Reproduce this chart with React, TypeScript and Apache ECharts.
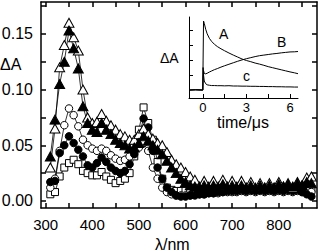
import React, { useEffect, useRef } from "react";
import * as echarts from "echarts";

const wavelengths = [310, 320, 330, 340, 350, 360, 370, 380, 390, 400, 410, 420, 430, 440, 450, 460, 470, 480, 490, 500, 510, 520, 530, 540, 550, 560, 570, 580, 590, 600, 610, 620, 630, 640, 650, 660, 670, 680, 690, 700, 710, 720, 730, 740, 750, 760, 770, 780, 790, 800, 810, 820, 830, 840, 850, 860, 870];

const triOpen = [0.030, 0.065, 0.120, 0.140, 0.160, 0.147, 0.135, 0.100, 0.075, 0.070,
  0.071, 0.078, 0.072, 0.068, 0.064, 0.060, 0.058, 0.055, 0.055, 0.060,
  0.065, 0.060, 0.056, 0.052, 0.050, 0.044, 0.037, 0.033, 0.030, 0.026,
  0.022, 0.019, 0.013, 0.018, 0.013, 0.018, 0.013, 0.019, 0.013, 0.018,
  0.013, 0.018, 0.012, 0.017, 0.012, 0.016, 0.012, 0.016, 0.012, 0.017,
  0.013, 0.016, 0.012, 0.017, 0.014, 0.021, 0.022];

const triFill = [0.040, 0.073, 0.105, 0.125, 0.153, 0.137, 0.119, 0.085, 0.070, 0.064,
  0.062, 0.070, 0.064, 0.060, 0.055, 0.052, 0.050, 0.047, 0.048, 0.052,
  0.058, 0.054, 0.050, 0.046, 0.042, 0.036, 0.030, 0.025, 0.020, 0.017,
  0.014, 0.013, 0.012, 0.014, 0.012, 0.014, 0.012, 0.015, 0.012, 0.014,
  0.012, 0.014, 0.012, 0.014, 0.011, 0.014, 0.012, 0.014, 0.012, 0.015,
  0.013, 0.015, 0.013, 0.016, 0.014, 0.017, 0.016];

const circOpen = [0.012, 0.020, 0.045, 0.068, 0.083, 0.077, 0.067, 0.055, 0.050, 0.047,
  0.045, 0.047, 0.045, 0.041, 0.038, 0.036, 0.037, 0.040, 0.044, 0.048,
  0.052, 0.045, 0.030, 0.020, 0.012, 0.008, 0.006, 0.005, 0.005, 0.005,
  0.005, 0.006, 0.006, 0.006, 0.007, 0.007, 0.007, 0.008, 0.008, 0.008,
  0.008, 0.009, 0.008, 0.009, 0.008, 0.009, 0.008, 0.009, 0.008, 0.009,
  0.008, 0.009, 0.008, 0.009, 0.008, 0.009, 0.008];

const circFill = [0.017, 0.018, 0.043, 0.050, 0.058, 0.052, 0.046, 0.040, 0.032, 0.030,
  0.034, 0.039, 0.035, 0.030, 0.027, 0.025, 0.027, 0.033, 0.042, 0.058,
  0.074, 0.066, 0.045, 0.030, 0.020, 0.012, 0.008, 0.005, 0.004, 0.004,
  0.005, 0.005, 0.006, 0.006, 0.007, 0.007, 0.008, 0.008, 0.009, 0.009,
  0.009, 0.010, 0.009, 0.010, 0.009, 0.010, 0.009, 0.010, 0.009, 0.010,
  0.009, 0.010, 0.009, 0.010, 0.008, 0.006, 0.004];

const sqOpen = [0.006, 0.008, 0.022, 0.030, 0.034, 0.037, 0.033, 0.027, 0.025, 0.023,
  0.023, 0.026, 0.022, 0.019, 0.016, 0.018, 0.020, 0.025, 0.040, 0.064,
  0.084, 0.070, 0.055, 0.035, 0.020, 0.012, 0.010, 0.009, 0.009, 0.009,
  0.009, 0.009, 0.010, 0.009, 0.010, 0.010, 0.010, 0.010, 0.011, 0.010,
  0.011, 0.010, 0.011, 0.010, 0.011, 0.011, 0.010, 0.011, 0.010, 0.011,
  0.010, 0.011, 0.010, 0.011, 0.011, 0.013, 0.011];

const xTickValues = [300, 350, 400, 450, 500, 550, 600, 650, 700, 750, 800, 850];
const xLabelValues = [300, 400, 500, 600, 700, 800];
const yTickValues = [0, 0.025, 0.05, 0.075, 0.1, 0.125, 0.15, 0.175];
const yLabelValues = [0, 0.05, 0.1, 0.15];

const insetT = [-0.95, -0.5, 0, 0.02, 0.05, 0.1, 0.2, 0.3, 0.45, 0.6, 0.8, 1.0, 1.25, 1.5, 1.8, 2.1, 2.4, 2.7, 3.0, 3.3, 3.6, 3.9, 4.2, 4.5, 4.8, 5.1, 5.4, 5.7, 6.0, 6.3, 6.55];
const curveA = [0, 0.02, 0, 2.0, 4.6, 4.45, 4.05, 3.75, 3.45, 3.25, 3.05, 2.9, 2.75, 2.62, 2.47, 2.33, 2.2, 2.07, 1.97, 1.89, 1.8, 1.73, 1.65, 1.56, 1.49, 1.42, 1.35, 1.28, 1.21, 1.15, 1.09];
const curveB = [0, 0.02, 0, 0.8, 1.3, 1.1, 1.08, 1.12, 1.2, 1.27, 1.36, 1.43, 1.53, 1.62, 1.72, 1.82, 1.92, 2.01, 2.09, 2.16, 2.23, 2.29, 2.33, 2.37, 2.41, 2.44, 2.48, 2.51, 2.54, 2.55, 2.57];
const curveC = [0, 0.02, 0, 1.5, 1.0, 0.6, 0.42, 0.35, 0.32, 0.3, 0.3, 0.29, 0.29, 0.28, 0.29, 0.27, 0.27, 0.26, 0.26, 0.25, 0.25, 0.24, 0.24, 0.23, 0.23, 0.22, 0.22, 0.21, 0.21, 0.2, 0.2];
const insetXTicks = [0, 1.5, 3, 4.5, 6];
const insetXLabels = [0, 3, 6];
const insetYTicks = [1, 2, 3, 4];

const FONT = "Liberation Sans, Arial, sans-serif";

export default function App() {
  const ref = useRef<HTMLDivElement>(null);
  useEffect(() => {
    if (!ref.current) return;
    const chart = echarts.init(ref.current, undefined, { renderer: "svg" });
    const pairs = (ys: number[]) => wavelengths.map((w, i) => [w, ys[i]]);
    const ipairs = (ys: number[]) => insetT.map((t, i) => [t, ys[i]]);
    const line = { color: "#000", width: 1.5 };
    const scatterLine = (name: string, data: number[], symbol: string, size: any, fill: string) => ({
      name,
      type: "line",
      xAxisIndex: 0,
      yAxisIndex: 0,
      data: pairs(data),
      symbol,
      symbolSize: size,
      showAllSymbol: true,
      lineStyle: { color: "#000", width: 0.8 },
      itemStyle: { color: fill, borderColor: "#000", borderWidth: 1 },
    });
    const insetLine = (data: number[]) => ({
      type: "line",
      xAxisIndex: 2,
      yAxisIndex: 2,
      data: ipairs(data),
      showSymbol: false,
      symbol: "none",
      lineStyle: { color: "#000", width: 1 },
    });
    chart.setOption({
      animation: false,
      backgroundColor: "#fff",
      grid: [
        { left: 41, top: 2, width: 276, height: 206, outerBoundsMode: "none", containLabel: false },
        { left: 189, top: 17, width: 109, height: 81, outerBoundsMode: "none", containLabel: false },
      ],
      xAxis: [
        {
          type: "value", gridIndex: 0, position: "bottom", min: 290, max: 882,
          axisLine: { onZero: false, lineStyle: line },
          axisTick: { inside: true, length: 5, lineStyle: line, customValues: xTickValues },
          axisLabel: { customValues: xLabelValues, color: "#000", fontSize: 15, fontFamily: FONT, margin: 9 },
          splitLine: { show: false },
        },
        {
          type: "value", gridIndex: 0, position: "top", min: 290, max: 882,
          axisLine: { onZero: false, lineStyle: line },
          axisTick: { inside: true, length: 5, lineStyle: line, customValues: xTickValues },
          axisLabel: { show: false },
          splitLine: { show: false },
        },
        {
          type: "value", gridIndex: 1, position: "bottom", min: -0.95, max: 6.55,
          axisLine: { onZero: false, lineStyle: { color: "#000", width: 1 } },
          axisTick: { inside: true, length: 4, lineStyle: { color: "#000", width: 1 }, customValues: insetXTicks },
          axisLabel: { customValues: insetXLabels, color: "#000", fontSize: 13, fontFamily: FONT, margin: 3 },
          splitLine: { show: false },
        },
      ],
      yAxis: [
        {
          type: "value", gridIndex: 0, position: "left", min: -0.0063, max: 0.1786,
          axisLine: { onZero: false, lineStyle: line },
          axisTick: { inside: true, length: 5, lineStyle: line, customValues: yTickValues },
          axisLabel: {
            customValues: yLabelValues, color: "#000", fontSize: 16, fontFamily: FONT, margin: 8,
            formatter: (v: number) => v.toFixed(2),
          },
          splitLine: { show: false },
        },
        {
          type: "value", gridIndex: 0, position: "right", min: -0.0063, max: 0.1786,
          axisLine: { onZero: false, lineStyle: line },
          axisTick: { inside: true, length: 5, lineStyle: line, customValues: yTickValues },
          axisLabel: { show: false },
          splitLine: { show: false },
        },
        {
          type: "value", gridIndex: 1, position: "left", min: -0.53, max: 4.87,
          axisLine: { onZero: false, lineStyle: { color: "#000", width: 1 } },
          axisTick: { inside: true, length: 4, lineStyle: { color: "#000", width: 1 }, customValues: insetYTicks },
          axisLabel: { show: false },
          splitLine: { show: false },
        },
      ],
      series: [
        scatterLine("squares", sqOpen, "rect", 7, "#fff"),
        scatterLine("open circles", circOpen, "circle", 7.5, "#fff"),
        scatterLine("filled circles", circFill, "circle", 7.5, "#000"),
        scatterLine("open triangles", triOpen, "triangle", [10, 9], "#fff"),
        scatterLine("filled triangles", triFill, "triangle", [10, 9], "#000"),
        insetLine(curveA),
        insetLine(curveB),
        insetLine(curveC),
      ],
      graphic: [
        { type: "text", left: 0, top: 56, style: { text: "ΔA", font: `16px ${FONT}`, fill: "#000" } },
        { type: "text", left: 155, top: 236, style: { text: "λ/nm", font: `16px ${FONT}`, fill: "#000" } },
        { type: "text", left: 160, top: 51, style: { text: "ΔA", font: `14px ${FONT}`, fill: "#000" } },
        { type: "text", left: 217, top: 114, style: { text: "time/μs", font: `16px ${FONT}`, fill: "#000" } },
        { type: "text", left: 219, top: 27, style: { text: "A", font: `14px ${FONT}`, fill: "#000" } },
        { type: "text", left: 277, top: 35, style: { text: "B", font: `14px ${FONT}`, fill: "#000" } },
        { type: "text", left: 243, top: 69, style: { text: "c", font: `14px ${FONT}`, fill: "#000" } },
      ],
    });
    return () => chart.dispose();
  }, []);
  return <div ref={ref} style={{ position: "fixed", left: 0, top: 0, width: 320, height: 252 }} />;
}
